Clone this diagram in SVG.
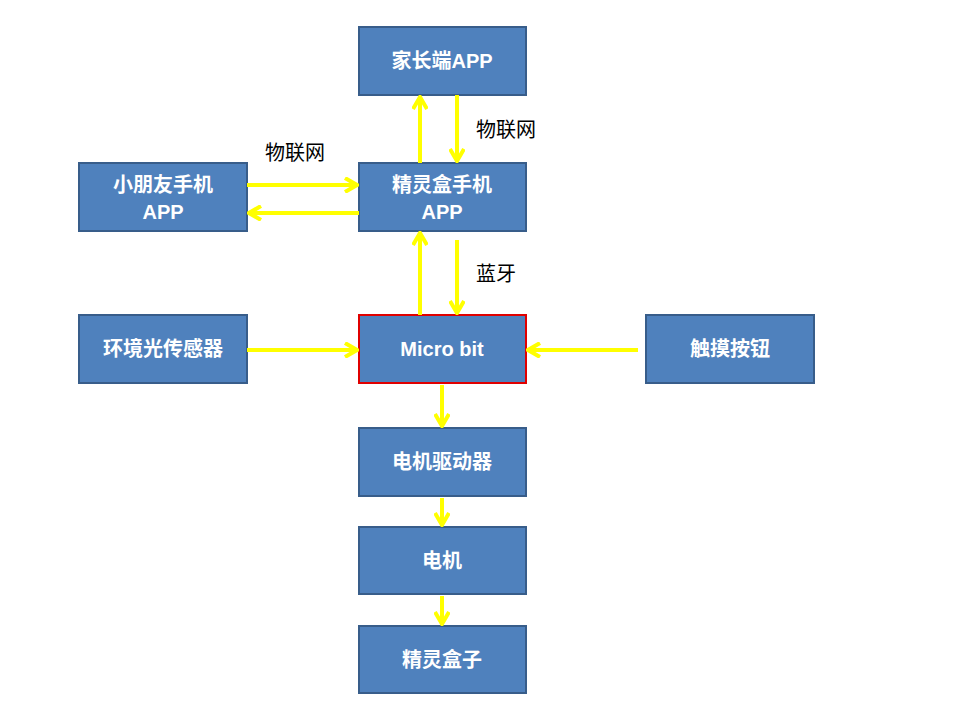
<svg xmlns="http://www.w3.org/2000/svg" width="960" height="720" viewBox="0 0 960 720">
<style>
.box{fill:#4F81BD;stroke:#385D8A;stroke-width:2}
.t{fill:#fff;font-family:"Liberation Sans","Noto Sans CJK SC",sans-serif;font-weight:bold;font-size:20px;text-anchor:middle}
.l{fill:#000;font-family:"Liberation Sans","Noto Sans CJK SC",sans-serif;font-size:20px}
.c{stroke:#FFFF00;stroke-width:4;fill:none;marker-end:url(#a)}
</style>
<defs><marker id="a" markerUnits="userSpaceOnUse" markerWidth="16" markerHeight="16" refX="14" refY="8" orient="auto"><path d="M2,1 L14,8 L2,15" fill="none" stroke="#FFFF00" stroke-width="4"/></marker></defs>
<rect width="960" height="720" fill="#fff"/>
<g id="parent"><rect class="box" x="359" y="27" width="167" height="68"/><text class="t" x="442" y="68">家长端APP</text></g>
<g id="box"><rect class="box" x="359" y="163" width="167" height="68"/><text class="t" x="442" y="192">精灵盒手机</text><text class="t" x="442" y="219">APP</text></g>
<g id="kid"><rect class="box" x="79" y="163" width="168" height="68"/><text class="t" x="163" y="192">小朋友手机</text><text class="t" x="163" y="219">APP</text></g>
<g id="micro"><rect x="359" y="315" width="167" height="68" fill="#4F81BD" stroke="#E00000" stroke-width="2"/><text class="t" x="442" y="356" font-size="18">Micro bit</text></g>
<g id="light"><rect class="box" x="79" y="315" width="168" height="68"/><text class="t" x="163" y="356">环境光传感器</text></g>
<g id="touch"><rect class="box" x="646" y="315" width="168" height="68"/><text class="t" x="730" y="356">触摸按钮</text></g>
<g id="driver"><rect class="box" x="359" y="428" width="167" height="68"/><text class="t" x="442" y="469">电机驱动器</text></g>
<g id="motor"><rect class="box" x="359" y="527" width="167" height="67"/><text class="t" x="442" y="568">电机</text></g>
<g id="sprite"><rect class="box" x="359" y="626" width="167" height="67"/><text class="t" x="442" y="667">精灵盒子</text></g>
<g id="connectors">
<line class="c" x1="420" y1="163" x2="420" y2="97"/>
<line class="c" x1="457" y1="95" x2="457" y2="161"/>
<line class="c" x1="247" y1="185" x2="357" y2="185"/>
<line class="c" x1="359" y1="213" x2="249" y2="213"/>
<line class="c" x1="420" y1="315" x2="420" y2="233"/>
<line class="c" x1="457" y1="240" x2="457" y2="313"/>
<line class="c" x1="247" y1="350" x2="357" y2="350"/>
<line class="c" x1="638" y1="350" x2="528" y2="350"/>
<line class="c" x1="442" y1="385" x2="442" y2="426"/>
<line class="c" x1="442" y1="498" x2="442" y2="525"/>
<line class="c" x1="442" y1="596" x2="442" y2="624"/>
<text class="l" x="476" y="137">物联网</text>
<text class="l" x="265" y="160">物联网</text>
<text class="l" x="476" y="281">蓝牙</text>
</g>
</svg>
